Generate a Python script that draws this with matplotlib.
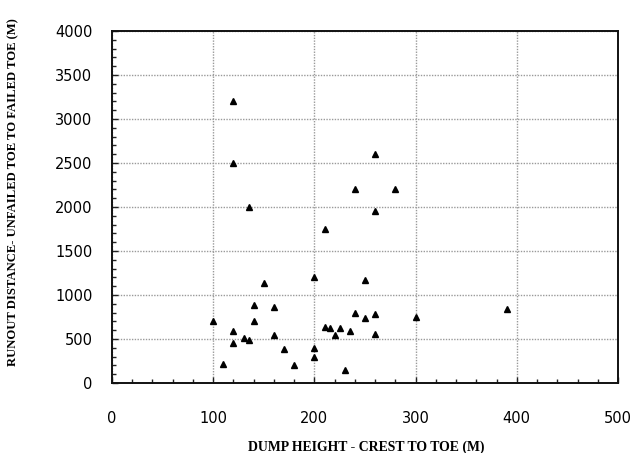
import numpy as np
import matplotlib
matplotlib.use("Agg")
import matplotlib.pyplot as plt
from matplotlib.ticker import MultipleLocator

# dump height (m) vs runout distance (m)
height = [100, 110, 120, 120, 130, 135, 140, 140, 150, 160, 160, 170, 180,
          200, 200, 200, 210, 210, 215, 220, 225, 230, 235, 240, 250, 250,
          260, 260, 120, 120, 135, 260, 240, 260, 280, 300, 390]
runout = [700, 220, 590, 460, 510, 490, 700, 890, 1140, 860, 540, 390, 200,
          1200, 400, 300, 1750, 640, 620, 550, 620, 150, 590, 790, 1170, 740,
          780, 560, 3200, 2500, 2000, 2600, 2200, 1950, 2200, 750, 840]

x_ticks = [0, 100, 200, 300, 400, 500]
y_ticks = [0, 500, 1000, 1500, 2000, 2500, 3000, 3500, 4000]

fig = plt.figure(figsize=(6.41, 4.53), dpi=100)
ax = fig.add_axes([112/641, 1 - 383/453, 506/641, 352/453])

ax.plot(height, runout, linestyle="none", marker="^", color="black",
        markersize=5)

ax.set_xlim(0, 500)
ax.set_ylim(0, 4000)
ax.set_xticks(x_ticks)
ax.set_yticks(y_ticks)
ax.xaxis.set_minor_locator(MultipleLocator(20))
ax.yaxis.set_minor_locator(MultipleLocator(100))

ax.grid(True, which="major", color="#9a9a9a", linestyle=(0, (1, 1)),
        linewidth=1.0)
ax.tick_params(which="both", direction="in", top=False, right=False,
               color="#222222")
ax.tick_params(which="major", length=4, width=1)
ax.tick_params(which="minor", length=3, width=1)
ax.tick_params(axis="x", which="major", pad=20.5, labelsize=10.5)
ax.tick_params(axis="y", which="major", pad=14, labelsize=10.5)

for s in ax.spines.values():
    s.set_linewidth(1.4)
    s.set_color("#111111")

ax.set_xlabel("DUMP HEIGHT - CREST TO TOE (M)", family="Liberation Serif",
              weight="bold", size=9.9)
ax.set_ylabel("RUNOUT DISTANCE- UNFAILED TOE TO FAILED TOE (M)",
              family="Liberation Serif", weight="bold", size=9.1)
ax.xaxis.set_label_coords(0.502, -0.162)
ax.yaxis.set_label_coords(-0.184, 0.543)

fig.savefig("out.png", dpi=100)
